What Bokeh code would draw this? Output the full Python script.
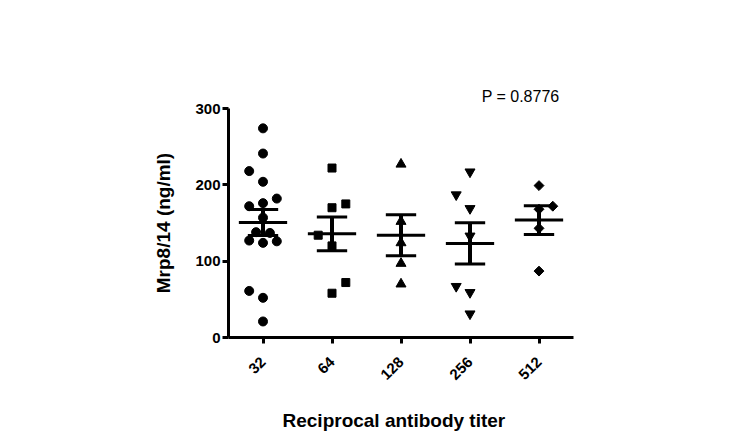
import numpy as np
from math import pi
from bokeh.plotting import figure
from bokeh.models import FixedTicker, Range1d, Title
from bokeh.embed import file_html
from bokeh.resources import INLINE

# ---- data ----
titers = ["32", "64", "128", "256", "512"]
g32 = [274, 241, 218, 204, 182, 176, 172, 157, 138, 137, 127, 124, 126, 61, 52, 21]
g32_dx = [0, 0, -0.2, 0, 0.2, 0, -0.2, 0, -0.1, 0.1, -0.2, 0, 0.2, -0.2, 0, 0]
g64 = [222, 175, 170, 134, 120, 72, 58]
g64_dx = [0, 0.2, 0, -0.2, 0, 0.2, 0]
g128 = [227, 152, 124, 97, 70]
g128_dx = [0, 0, 0, 0, 0]
g256 = [217, 187, 169, 133, 67, 59, 31]
g256_dx = [0, -0.2, 0, 0, -0.2, 0, 0]
g512 = [199, 172, 168, 143, 87]
g512_dx = [0, 0.2, 0, 0, 0]
y_ticks = [0, 100, 200, 300]
p_value_text = "P = 0.8776"
x_title = "Reciprocal antibody titer"
y_title = "Mrp8/14 (ng/ml)"

groups = [g32, g64, g128, g256, g512]
offsets = [g32_dx, g64_dx, g128_dx, g256_dx, g512_dx]
markers = [("circle", 9, 0.0), ("square", 8, 0.0), ("triangle", 10, 0.0),
           ("inverted_triangle", 10, 0.0), ("square", 7, pi / 4)]

FONT = "Liberation Sans"

p = figure(frame_width=345, frame_height=229,
           x_range=Range1d(0.5, 5.5), y_range=Range1d(0, 300),
           output_backend="svg", toolbar_location=None,
           min_border_left=228, min_border_right=168,
           min_border_top=108, min_border_bottom=106)
p.outline_line_color = None
p.grid.visible = False
p.background_fill_color = "white"

p.title = Title(text=p_value_text, align="right", offset=14, standoff=7,
                text_font=FONT, text_font_size="16px", text_font_style="normal",
                text_color="black")

for i, (vals, dx, (mk, sz, ang)) in enumerate(zip(groups, offsets, markers)):
    c = i + 1
    xs = [c + d for d in dx]
    p.scatter(xs, vals, marker=mk, size=sz, angle=ang, color="black")
    arr = np.array(vals, dtype=float)
    m = arr.mean()
    s = arr.std(ddof=1) / np.sqrt(len(arr))
    p.segment(x0=[c - 0.35], x1=[c + 0.35], y0=[m], y1=[m], line_color="black", line_width=3)
    p.segment(x0=[c], x1=[c], y0=[m - s], y1=[m + s], line_color="black", line_width=4)
    p.segment(x0=[c - 0.22, c - 0.22], x1=[c + 0.22, c + 0.22], y0=[m - s, m + s], y1=[m - s, m + s],
              line_color="black", line_width=3)

for ax in (p.xaxis[0], p.yaxis[0]):
    ax.axis_line_width = 3
    ax.axis_line_color = "black"
    ax.major_tick_line_width = 3
    ax.major_tick_out = 6
    ax.major_tick_in = 0
    ax.minor_tick_line_color = None
    ax.major_label_text_font = FONT
    ax.major_label_text_font_style = "bold"
    ax.major_label_text_font_size = "15px"
    ax.major_label_text_color = "black"
    ax.axis_label_text_font = FONT
    ax.axis_label_text_font_style = "bold"
    ax.axis_label_text_font_size = "19px"
    ax.axis_label_text_color = "black"

p.xaxis.ticker = FixedTicker(ticks=[1, 2, 3, 4, 5])
p.xaxis.major_label_overrides = {i + 1: t for i, t in enumerate(titers)}
p.xaxis.major_label_orientation = pi / 4
p.xaxis.major_label_standoff = 16

p.add_layout(Title(text=x_title, align="left", offset=54, standoff=41,
                   text_font=FONT, text_font_size="19px", text_font_style="bold",
                   text_color="black"), "below")

p.yaxis.ticker = FixedTicker(ticks=y_ticks)
p.yaxis.major_label_standoff = 2
p.yaxis.axis_label = y_title
p.yaxis.axis_label_standoff = 18

open("out.html", "w").write(file_html(p, INLINE))
